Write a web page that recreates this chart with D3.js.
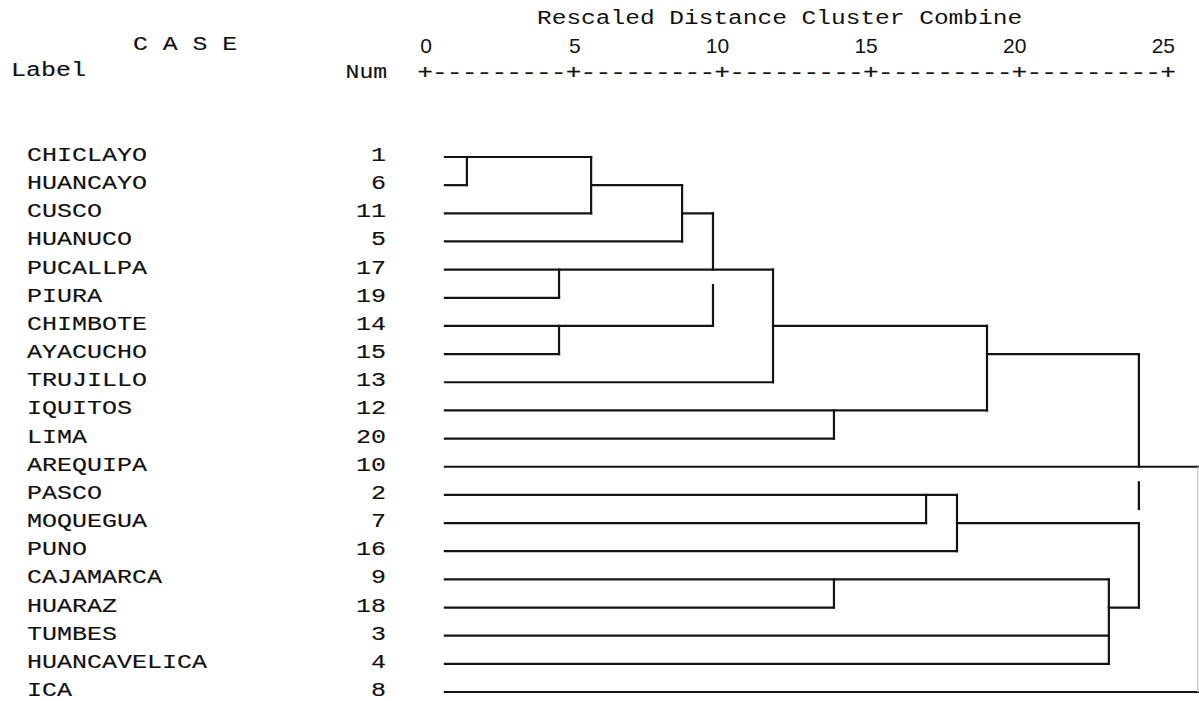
<!DOCTYPE html>
<html>
<head>
<meta charset="utf-8">
<script src="https://cdn.jsdelivr.net/npm/d3@7/dist/d3.min.js"></script>
<style>
  html, body { margin: 0; padding: 0; background: #fff; }
  svg { display: block; }
  .mono { font-family: "Liberation Mono", "DejaVu Sans Mono", monospace; fill: #111; }
  .heavy { stroke: #111; stroke-width: 0.15px; }
</style>
</head>
<body>
<svg id="chart" width="1199" height="701"></svg>
<script>
// Cases in dendrogram order, with their case numbers
const cases = ["CHICLAYO","HUANCAYO","CUSCO","HUANUCO","PUCALLPA","PIURA","CHIMBOTE","AYACUCHO",
  "TRUJILLO","IQUITOS","LIMA","AREQUIPA","PASCO","MOQUEGUA","PUNO","CAJAMARCA","HUARAZ",
  "TUMBES","HUANCAVELICA","ICA"];
const caseNums = [1,6,11,5,17,19,14,15,13,12,20,10,2,7,16,9,18,3,4,8];

// Rescaled distance axis
const axisTicks = [0, 5, 10, 15, 20, 25];
const leafStart = 0.67;

// Distance at which each case's own branch ends (same order as cases)
const leafEnd = [5.59, 1.41, 5.59, 8.65, 11.71, 4.51, 9.69, 4.51, 11.71, 18.91,
  13.76, 26.0, 17.90, 16.86, 17.90, 23.01, 13.76, 23.01, 23.01, 26.0];

// Joining branches: [row, from distance, to distance]
const joinRows = [
  [1, 5.59, 8.65],
  [2, 8.65, 9.69],
  [6, 11.71, 18.91],
  [7, 18.91, 24.02],
  [13, 17.90, 24.02],
  [16, 23.01, 24.02]
];

// Merge links: [distance, from row, to row]
const merges = [
  [1.41, 0, 1],
  [5.59, 0, 2],
  [8.65, 1, 3],
  [9.69, 2, 4],
  [9.69, 4.55, 6],
  [4.51, 4, 5],
  [4.51, 6, 7],
  [11.71, 4, 8],
  [13.76, 9, 10],
  [18.91, 6, 9],
  [24.02, 7, 11],
  [24.02, 11.55, 12.5],
  [24.02, 13, 16],
  [16.86, 12, 13],
  [17.90, 12, 14],
  [13.76, 15, 16],
  [23.01, 15, 18]
];
// Outer link on the far right, printed faintly
const outerLink = [[26.0, 11, 19]];

const svg = d3.select("#chart");
const x = d3.scaleLinear().domain([0, 25]).range([425, 1168]);
const y = d3.scaleLinear().domain([0, cases.length - 1]).range([157, 692]);

// Wide typewriter-style text: monospace glyphs stretched horizontally
function typeText(parent, str, tx, ty, opts = {}) {
  const size = opts.size || 20;
  const sx = opts.sx || 1.25;
  return parent.append("text")
    .attr("class", "mono" + (opts.light ? "" : " heavy"))
    .attr("transform", `translate(${tx},${ty}) scale(${sx},1)`)
    .attr("text-anchor", opts.anchor || "start")
    .style("font-size", size + "px")
    .text(str);
}

// Title and case header
typeText(svg, "Rescaled Distance Cluster Combine", 537, 24, { size: 20, sx: 1.225, light: true });
typeText(svg, "C A S E", 133, 50, { size: 20, sx: 1.24 });
typeText(svg, "Label", 11, 76, { size: 20, sx: 1.25 });
typeText(svg, "Num", 387, 78, { size: 20, sx: 1.15, anchor: "end" });

// Axis numbers
const axisG = svg.append("g").attr("transform", "translate(0,53)")
  .call(d3.axisTop(x).tickValues(axisTicks).tickSize(0).tickPadding(0));
axisG.select(".domain").remove();
axisG.selectAll("text")
  .attr("text-anchor", "end")
  .attr("dx", 6.5)
  .attr("y", 0)
  .attr("fill", "#111")
  .style("font-size", "21px")
  .style("font-family", "'Liberation Sans', Arial, sans-serif");

// Axis rule drawn as +----+ characters, one per half unit
const ruleSteps = d3.range(0, 25.001, 0.5);
svg.append("g").selectAll("text").data(ruleSteps).join("text")
  .attr("class", "mono heavy")
  .attr("transform", d => `translate(${x(d)},79) scale(1.25,1)`)
  .attr("text-anchor", "middle")
  .style("font-size", "21px")
  .text(d => (d % 5 === 0 ? "+" : "-"));

// Case labels and numbers
const labelG = svg.append("g");
cases.forEach((c, i) => typeText(labelG, c, 27, y(i) + 4));
const numG = svg.append("g");
caseNums.forEach((n, i) => typeText(numG, String(n), 386, y(i) + 4, { anchor: "end" }));

// Dendrogram branches
const tree = svg.append("g").attr("stroke", "#141414").attr("stroke-width", 2.2)
  .attr("stroke-linecap", "square").attr("fill", "none");

tree.selectAll("line.leaf").data(leafEnd).join("line")
  .attr("class", "leaf")
  .attr("x1", x(leafStart)).attr("x2", d => x(d))
  .attr("y1", (d, i) => y(i)).attr("y2", (d, i) => y(i));

tree.selectAll("line.join").data(joinRows).join("line")
  .attr("class", "join")
  .attr("x1", d => x(d[1])).attr("x2", d => x(d[2]))
  .attr("y1", d => y(d[0])).attr("y2", d => y(d[0]));

tree.selectAll("line.merge").data(merges).join("line")
  .attr("class", "merge")
  .attr("x1", d => x(d[0])).attr("x2", d => x(d[0]))
  .attr("y1", d => y(d[1])).attr("y2", d => y(d[2]));

svg.append("g").selectAll("line").data(outerLink).join("line")
  .attr("stroke", "#c8c8c8").attr("stroke-width", 1.2)
  .attr("x1", d => x(d[0])).attr("x2", d => x(d[0]))
  .attr("y1", d => y(d[1])).attr("y2", d => y(d[2]));
</script>
</body>
</html>
